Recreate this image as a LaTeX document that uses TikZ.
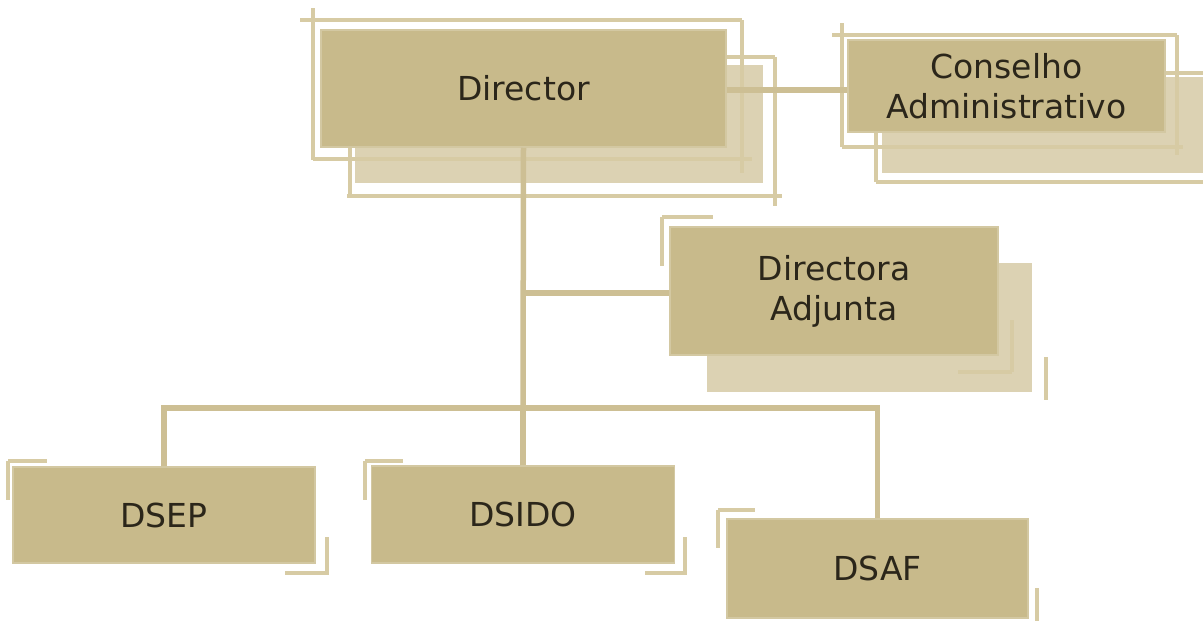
\documentclass[tikz,border=0pt]{standalone}
\usepackage{fontspec}
\setmainfont{DejaVu Sans}
\definecolor{boxfill}{HTML}{C8BA8B}
\definecolor{shadowfill}{HTML}{DCD2B3}
\definecolor{framecol}{HTML}{D7CBA4}
\definecolor{linkcol}{HTML}{CDBF94}
\definecolor{txtcol}{HTML}{2B261A}
\tikzset{
  mainbox/.style={fill=boxfill, draw=boxfill!80!white, line width=1.5pt, inner sep=0pt, align=center,
    text=txtcol, font=\fontsize{33}{40}\selectfont},
  shadowbox/.style={fill=shadowfill},
  frameline/.style={draw=framecol, line width=4pt},
  link/.style={draw=linkcol, line width=5.5pt}
}
\begin{document}
\begin{tikzpicture}[x=1pt,y=-1pt]
\useasboundingbox (0,0) rectangle (1203,621);
% shadows
\fill[shadowbox] (355,65) rectangle (763,183);
\fill[shadowbox] (882,77) rectangle (1203,173);
\fill[shadowbox] (707,263) rectangle (1032,392);
% frames Director
\draw[frameline] (300,20) -- (742,20);
\draw[frameline] (313,8) -- (313,160);
\draw[frameline] (313,159) -- (752,159);
\draw[frameline] (742,20) -- (742,173);
\draw[frameline] (725,57) -- (775,57);
\draw[frameline] (775,57) -- (775,206);
\draw[frameline] (347,196) -- (782,196);
\draw[frameline] (350,145) -- (350,196);
% frames Conselho
\draw[frameline] (832,35) -- (1177,35);
\draw[frameline] (842,23) -- (842,147);
\draw[frameline] (842,147) -- (1183,147);
\draw[frameline] (1177,35) -- (1177,155);
\draw[frameline] (1160,73) -- (1203,73);
\draw[frameline] (876,182) -- (1203,182);
\draw[frameline] (876,130) -- (876,182);
% frames Directora
\draw[frameline] (662,217) -- (713,217);
\draw[frameline] (662,217) -- (662,266);
\draw[frameline] (1012,320) -- (1012,372);
\draw[frameline] (958,372) -- (1012,372);
\draw[frameline] (1046,357) -- (1046,400);
% corner marks DSEP
\draw[frameline] (8,461) -- (47,461);
\draw[frameline] (8,461) -- (8,500);
\draw[frameline] (327,537) -- (327,575);
\draw[frameline] (285,573) -- (327,573);
% corner marks DSIDO
\draw[frameline] (365,461) -- (403,461);
\draw[frameline] (365,461) -- (365,500);
\draw[frameline] (685,537) -- (685,575);
\draw[frameline] (645,573) -- (685,573);
% corner marks DSAF
\draw[frameline] (718,510) -- (755,510);
\draw[frameline] (718,510) -- (718,548);
\draw[frameline] (1037,588) -- (1037,621);
% nodes
\node[mainbox, minimum width=405pt, minimum height=117pt] (director) at (523.5,88.5) {Director};
\node[mainbox, minimum width=317pt, minimum height=92pt] (conselho) at (1006.5,86) {Conselho\\Administrativo};
\node[mainbox, minimum width=328pt, minimum height=128pt] (adjunta) at (834,291) {Directora\\Adjunta};
\node[mainbox, minimum width=302pt, minimum height=96pt] (dsep) at (164,515) {DSEP};
\node[mainbox, minimum width=303pt, minimum height=97pt] (dsido) at (523,514.5) {DSIDO};
\node[mainbox, minimum width=301pt, minimum height=99pt] (dsaf) at (877.5,568.5) {DSAF};
% connectors
\coordinate (bus) at (523,408);
\coordinate (adjtap) at (523,293);
\draw[link] (director.south) -- (bus);
\draw[link] (adjtap) -- (adjunta.west |- adjtap);
\draw[link] (director.east |- 0,90) -- (conselho.west |- 0,90);
\draw[link] (dsep.north) |- (bus) -| (dsaf.north);
\draw[link] (bus) -- (dsido.north);
\end{tikzpicture}
\end{document}
